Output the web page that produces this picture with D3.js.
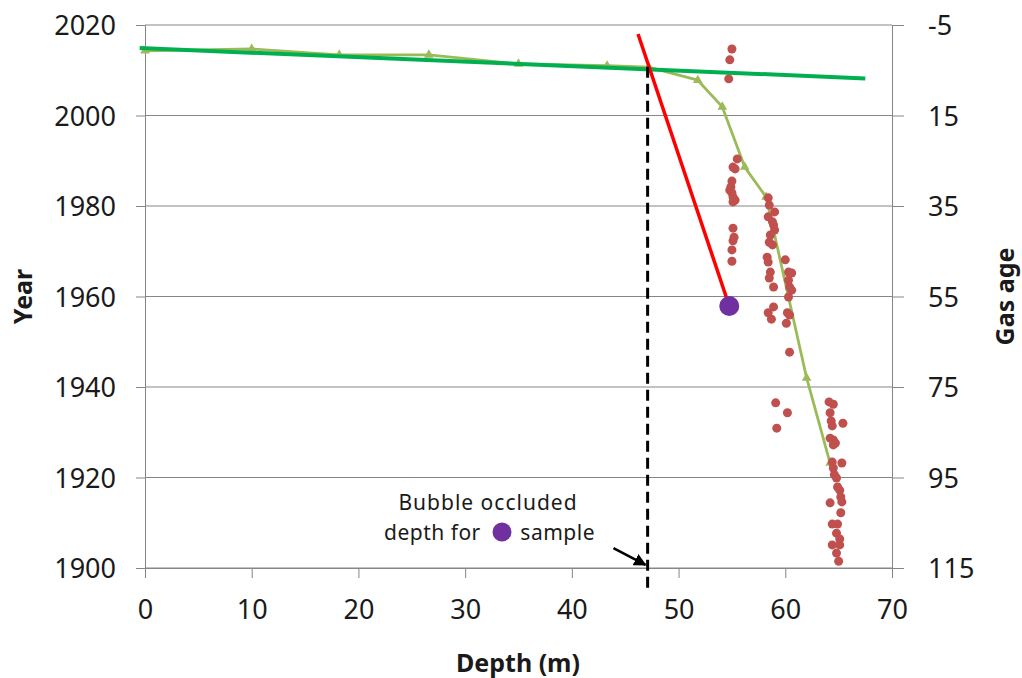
<!DOCTYPE html>
<html>
<head>
<meta charset="utf-8">
<script src="https://cdn.jsdelivr.net/npm/d3@7"></script>
<style>
  html, body { margin: 0; padding: 0; background: #fff; }
  svg { display: block; font-family: "Noto Sans", "Open Sans", sans-serif; }
</style>
</head>
<body>
<svg id="chart" width="1022" height="678"></svg>
<script>
// Axis ticks
const depthTicks = [0, 10, 20, 30, 40, 50, 60, 70];
const yearTicks = [1900, 1920, 1940, 1960, 1980, 2000, 2020];
const gasAgeTicks = [-5, 15, 35, 55, 75, 95, 115];

// Depth-age model (light green with triangles)
const modelDepth = [0, 10, 18.2, 26.6, 35.0, 43.3, 47.2, 51.8, 54.1, 56.2, 58.2, 62.0, 64.2];
const modelYear  = [2014.3, 2014.7, 2013.4, 2013.4, 2011.4, 2011.0, 2010.7, 2007.8, 2001.9, 1988.6, 1982.0, 1942.0, 1923.2];

// Linear trend of the upper firn (dark green)
const trendDepth = [-0.5, 67.5];
const trendYear  = [2014.9, 2008.2];

// Measured samples (red-brown dots)
const sampleDepths = [
  55.0, 54.8, 54.7, 55.5, 55.1, 55.3, 55.0, 54.9, 54.8, 55.0, 55.1, 55.3, 55.1, 55.1, 55.2, 55.1, 55.0, 55.0,
  58.4, 58.5, 59.0, 58.4, 58.8, 58.9, 59.0, 58.6, 58.5, 58.8, 58.3, 58.4, 60.0, 58.6, 60.3, 58.5, 60.6, 58.9,
  60.3, 60.4, 60.6, 60.3, 58.9, 58.4, 58.7, 60.2, 60.4, 60.1, 60.4, 59.1, 60.2, 59.2,
  64.1, 64.5, 64.2, 65.4, 64.3, 64.4, 64.2, 64.5, 64.7, 64.5, 65.3, 64.4, 64.5, 64.6, 64.8, 64.9, 65.1, 65.2,
  65.3, 64.2, 65.2, 64.4, 64.9, 64.8, 65.1, 64.4, 65.1, 64.8, 65.0
];
const sampleYears = [
  2014.7, 2012.3, 2008.1, 1990.4, 1988.6, 1988.2, 1985.5, 1984.2, 1983.5, 1982.9, 1982.0, 1981.3, 1980.9, 1975.1, 1973.1, 1972.3, 1970.3, 1967.8,
  1981.8, 1980.2, 1978.7, 1977.6, 1976.5, 1975.8, 1974.7, 1973.6, 1972.0, 1971.4, 1968.7, 1967.6, 1968.1, 1965.4, 1965.4, 1964.1, 1965.2, 1962.1,
  1963.6, 1962.1, 1961.4, 1959.9, 1957.7, 1956.4, 1955.0, 1956.4, 1955.9, 1954.1, 1947.7, 1936.5, 1934.3, 1930.9,
  1936.7, 1936.2, 1934.3, 1932.0, 1932.5, 1931.4, 1928.7, 1928.3, 1927.6, 1927.2, 1923.2, 1923.4, 1922.1, 1920.6, 1919.9, 1917.9, 1917.2, 1915.7,
  1914.6, 1914.4, 1912.2, 1909.7, 1909.7, 1907.7, 1906.4, 1905.1, 1905.1, 1903.3, 1901.5
];

// Bubble close-off line (red) ending at the purple sample
const redDepth = [46.2, 54.75];
const redYear  = [2018.0, 1957.9];
const purpleDepth = [54.75];
const purpleYear  = [1957.9];

// Occlusion depth (dashed) and pointer arrow
const occludedDepth = [47.1, 47.1];
const occludedYear  = [2010.8, 1894.6];
const arrowDepth = [43.9, 46.9];
const arrowYear  = [1904.4, 1900.7];

const svg = d3.select("#chart");
const x = d3.scaleLinear().domain([0, 70]).range([145, 892]);
const y = d3.scaleLinear().domain([1900, 2020]).range([568, 25]);
const yAge = d3.scaleLinear().domain([115, -5]).range([568, 25]);

const gridColor = "#868686";
const plain = d => String(d);

// Horizontal gridlines
svg.append("g").selectAll("line").data(yearTicks).join("line")
  .attr("x1", x(0)).attr("x2", x(70))
  .attr("y1", d => y(d)).attr("y2", d => y(d))
  .attr("stroke", gridColor).attr("stroke-width", 1);

// Left axis
const gL = svg.append("g").attr("transform", `translate(${x(0)},0)`)
  .call(d3.axisLeft(y).tickValues(yearTicks).tickFormat(plain).tickSize(9).tickPadding(20));
// Right axis
const gR = svg.append("g").attr("transform", `translate(${x(70)},0)`)
  .call(d3.axisRight(yAge).tickValues(gasAgeTicks).tickFormat(plain).tickSize(12).tickPadding(24));
// Bottom axis
const gB = svg.append("g").attr("transform", `translate(0,${y(1900)})`)
  .call(d3.axisBottom(x).tickValues(depthTicks).tickFormat(plain).tickSize(10).tickPadding(22));

[gL, gR, gB].forEach(g => {
  g.select(".domain").attr("stroke", gridColor).attr("stroke-width", 1);
  g.selectAll(".tick line").attr("stroke", gridColor).attr("stroke-width", 1);
  g.selectAll(".tick text").attr("fill", "#1a1a1a")
    .style("font-size", "27px").style("font-family", "\"Noto Sans\", sans-serif");
});
gL.selectAll(".tick text").attr("dy", "0.36em");
gR.selectAll(".tick text").attr("dy", "0.36em");

// Axis titles
svg.append("text").attr("transform", `translate(32,${y(1960)}) rotate(-90)`)
  .attr("text-anchor", "middle").style("font-size", "25px").style("font-weight", "bold")
  .attr("fill", "#1a1a1a").text("Year");
svg.append("text").attr("transform", `translate(1014,${y(1960)}) rotate(-90)`)
  .attr("text-anchor", "middle").style("font-size", "25px").style("font-weight", "bold")
  .attr("fill", "#1a1a1a").text("Gas age");
svg.append("text").attr("x", 518).attr("y", 672)
  .attr("text-anchor", "middle").style("font-size", "25px").style("font-weight", "bold")
  .attr("fill", "#1a1a1a").text("Depth (m)");

const line = d3.line().x(d => x(d[0])).y(d => y(d[1]));

// Depth-age model
const modelPts = d3.zip(modelDepth, modelYear);
svg.append("path").datum(modelPts).attr("d", line)
  .attr("fill", "none").attr("stroke", "#9BBB59").attr("stroke-width", 2.8)
  .attr("stroke-linejoin", "round");
svg.append("g").selectAll("path").data(modelPts).join("path")
  .attr("d", d3.symbol().type(d3.symbolTriangle).size(40))
  .attr("transform", d => `translate(${x(d[0])},${y(d[1])})`)
  .attr("fill", "#9BBB59");

// Sample dots
svg.append("g").selectAll("circle").data(d3.zip(sampleDepths, sampleYears)).join("circle")
  .attr("cx", d => x(d[0])).attr("cy", d => y(d[1])).attr("r", 4.5)
  .attr("fill", "#C0504D");

// Trend line
svg.append("path").datum(d3.zip(trendDepth, trendYear)).attr("d", line)
  .attr("fill", "none").attr("stroke", "#00B050").attr("stroke-width", 4);

// Red close-off line
svg.append("path").datum(d3.zip(redDepth, redYear)).attr("d", line)
  .attr("fill", "none").attr("stroke", "#FF0000").attr("stroke-width", 3.5);

// Dashed occlusion depth
svg.append("path").datum(d3.zip(occludedDepth, occludedYear)).attr("d", line)
  .attr("fill", "none").attr("stroke", "#000").attr("stroke-width", 3)
  .attr("stroke-dasharray", "11,6");

// Purple sample marker
svg.append("g").selectAll("circle").data(d3.zip(purpleDepth, purpleYear)).join("circle")
  .attr("cx", d => x(d[0])).attr("cy", d => y(d[1])).attr("r", 10)
  .attr("fill", "#7030A0");

// Arrow
svg.append("defs").append("marker").attr("id", "arrowhead")
  .attr("viewBox", "0 0 10 10").attr("refX", 9).attr("refY", 5)
  .attr("markerWidth", 5).attr("markerHeight", 5).attr("orient", "auto")
  .append("path").attr("d", "M0,0 L10,5 L0,10 z").attr("fill", "#000");
svg.append("path").datum(d3.zip(arrowDepth, arrowYear)).attr("d", line)
  .attr("fill", "none").attr("stroke", "#000").attr("stroke-width", 2.5)
  .attr("marker-end", "url(#arrowhead)");

// Annotation
const note = svg.append("g").style("font-size", "21px").attr("fill", "#1a1a1a");
note.append("text").attr("x", 488).attr("y", 510).attr("text-anchor", "middle")
  .style("letter-spacing", "1px").text("Bubble occluded");
note.append("text").attr("x", 384).attr("y", 540).style("letter-spacing", "0.5px").text("depth for");
note.append("circle").attr("cx", 502).attr("cy", 532).attr("r", 9.5).attr("fill", "#7030A0");
note.append("text").attr("x", 595).attr("y", 540).attr("text-anchor", "end")
  .style("letter-spacing", "0.5px").text("sample");
</script>
</body>
</html>
